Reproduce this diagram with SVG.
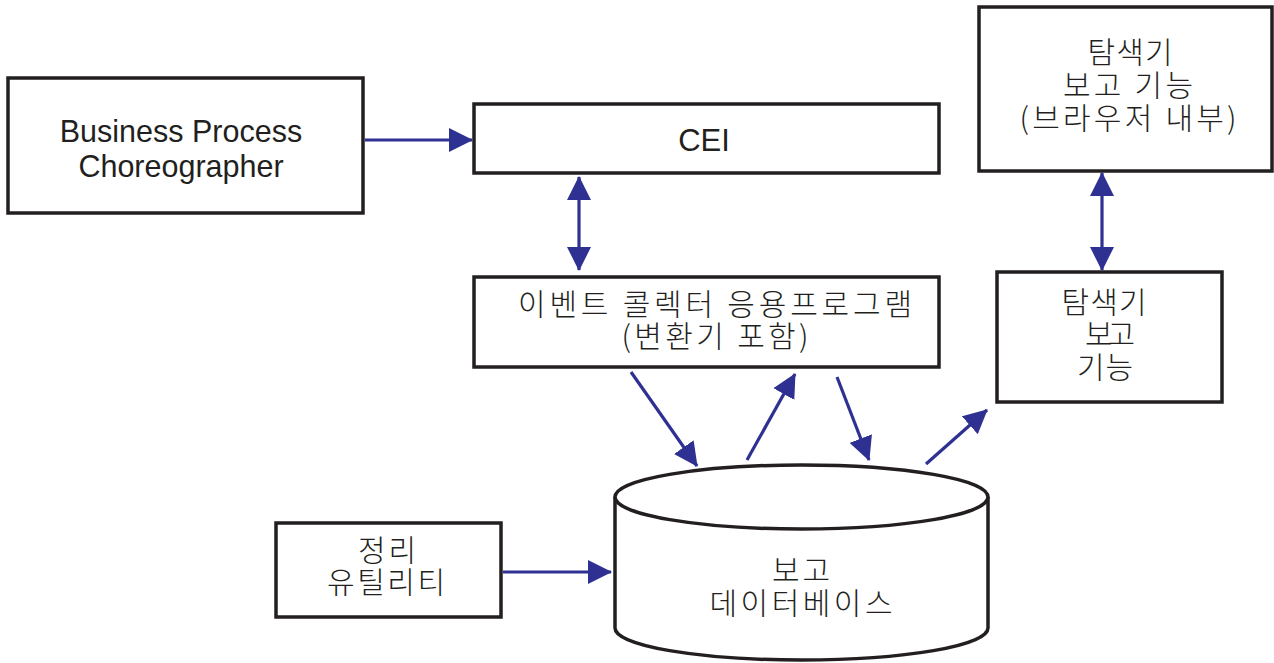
<svg xmlns="http://www.w3.org/2000/svg" width="1274" height="663" viewBox="0 0 1274 663">
<defs>
<style>
.box{fill:#fff;stroke:#231f20;stroke-width:3.5}
.en{font-family:"Liberation Sans",Arial,sans-serif;font-size:30.5px;fill:#231f20;text-anchor:middle}
.ko{font-family:"Noto Sans CJK KR","Liberation Sans",sans-serif;font-size:30px;font-weight:300;fill:#231f20;text-anchor:middle}
.arr{stroke:#2e3192;stroke-width:3.2;fill:none;marker-end:url(#ah)}
.dbl{stroke:#2e3192;stroke-width:3.2;fill:none;marker-end:url(#ah);marker-start:url(#ah)}
</style>
<marker id="ah" viewBox="0 0 24 24" refX="23" refY="12" markerWidth="24" markerHeight="24" markerUnits="userSpaceOnUse" orient="auto-start-reverse">
<path d="M0,0 L24,12 L0,24 Z" fill="#2e3192"/>
</marker>
</defs>
<rect width="1274" height="663" fill="#fff"/>
<g id="bpc">
<rect class="box" x="8" y="78" width="355" height="135"/>
<text class="en" x="181" y="142">Business Process</text>
<text class="en" x="181" y="177">Choreographer</text>
</g>
<g id="cei">
<rect class="box" x="474" y="104" width="465" height="69"/>
<text class="en" x="704" y="151" style="font-size:31px">CEI</text>
</g>
<g id="collector">
<rect class="box" x="474" y="277" width="465" height="90"/>
<text class="ko" x="715" y="315" textLength="394" lengthAdjust="spacing">이벤트 콜렉터 응용프로그램</text>
<text class="ko" x="715" y="347" textLength="187" lengthAdjust="spacing">(변환기 포함)</text>
</g>
<g id="browser-report">
<rect class="box" x="979" y="7" width="293" height="164"/>
<text class="ko" x="1130" y="63" textLength="85" lengthAdjust="spacing">탐색기</text>
<text class="ko" x="1128" y="96" textLength="130" lengthAdjust="spacing">보고 기능</text>
<text class="ko" x="1128" y="129" textLength="217" lengthAdjust="spacing">(브라우저 내부)</text>
</g>
<g id="report">
<rect class="box" x="997" y="272" width="225" height="130"/>
<text class="ko" x="1104" y="313" textLength="85" lengthAdjust="spacing">탐색기</text>
<text class="ko" x="1110" y="345" textLength="50" lengthAdjust="spacing">보고</text>
<text class="ko" x="1105" y="378" textLength="56" lengthAdjust="spacing">기능</text>
</g>
<g id="cleanup">
<rect class="box" x="276" y="523" width="225" height="94"/>
<text class="ko" x="387" y="561" textLength="58" lengthAdjust="spacing">정리</text>
<text class="ko" x="386" y="593" textLength="118" lengthAdjust="spacing">유틸리티</text>
</g>
<g id="database">
<path class="box" d="M615,497 L615,628 A186.5,32 0 0 0 988,628 L988,497"/>
<ellipse class="box" cx="801.5" cy="497" rx="186.5" ry="32"/>
<text class="ko" x="801" y="581" textLength="58" lengthAdjust="spacing">보고</text>
<text class="ko" x="801" y="614" textLength="183" lengthAdjust="spacing">데이터베이스</text>
</g>
<g id="connectors">
<line class="arr" x1="365" y1="140" x2="472" y2="140"/>
<line class="dbl" x1="579" y1="177" x2="579" y2="270"/>
<line class="dbl" x1="1102" y1="173" x2="1102" y2="270"/>
<line class="arr" x1="631" y1="372" x2="697" y2="466"/>
<line class="arr" x1="747" y1="460" x2="795" y2="374"/>
<line class="arr" x1="837" y1="377" x2="869" y2="460"/>
<line class="arr" x1="926" y1="464" x2="987" y2="410"/>
<line class="arr" x1="503" y1="572" x2="611" y2="572"/>
</g>
</svg>
